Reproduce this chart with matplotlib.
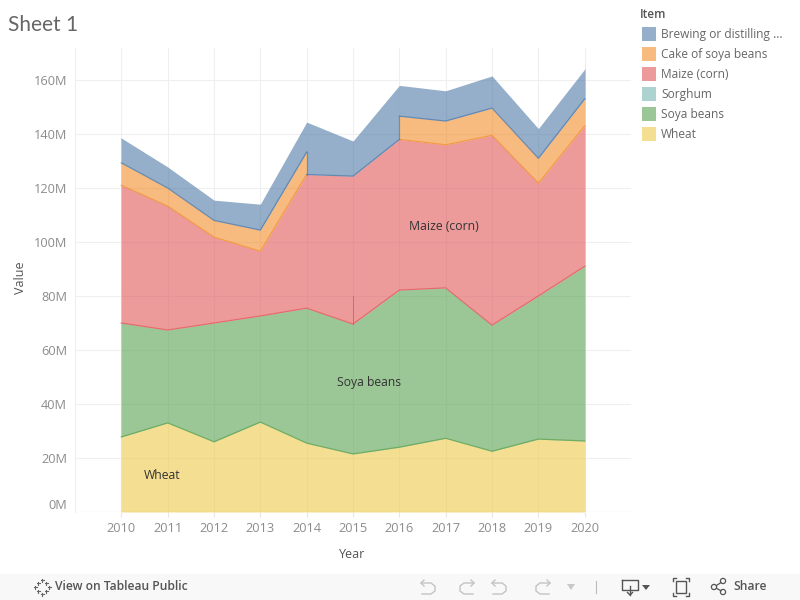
import numpy as np
import matplotlib
matplotlib.use("Agg")
import matplotlib.pyplot as plt
from matplotlib.patches import Rectangle, Circle

plt.rcParams['font.family'] = ['Open Sans', 'DejaVu Sans']

years = [2010, 2011, 2012, 2013, 2014, 2015, 2016, 2017, 2018, 2019, 2020]
wheat = [27.8, 33.0, 26.0, 33.3, 25.5, 21.5, 24.0, 27.3, 22.5, 27.0, 26.3]
soya = [42.2, 34.4, 44.0, 39.3, 50.0, 48.1, 58.2, 55.7, 46.7, 53.0, 64.7]
maize = [51.0, 45.9, 31.8, 24.0, 49.5, 54.8, 55.8, 53.0, 70.3, 41.8, 52.0]
# no cake of soya beans reported for 2015
cake = [8.3, 6.7, 6.2, 7.8, 8.3, np.nan, 8.6, 8.8, 10.1, 9.2, 10.0]
brewing = [9.2, 7.8, 7.5, 9.6, 11.1, 13.0, 11.4, 11.2, 11.9, 11.0, 11.0]
# sorghum only has the one year, shows up as a thin line
sorghum_year = 2015
sorghum = 10.5

legend_items = ["Brewing or distilling ...", "Cake of soya beans", "Maize (corn)",
                "Sorghum", "Soya beans", "Wheat"]
legend_colors = ["#4e79a7", "#f28e2b", "#e15759", "#76b7b2", "#59a14f", "#edc948"]
yticks = [0, 20, 40, 60, 80, 100, 120, 140, 160]

ALPHA = 0.6
TXT = "#8c8c8c"
DARK = "#555555"

fig = plt.figure(figsize=(8, 6), dpi=100, facecolor="white")
ax = fig.add_axes([75 / 800, 1 - 512 / 600, 556 / 800, 464 / 600])
ax.set_xlim(2009, 2021)
ax.set_ylim(0, 464 / 2.7)

ax.set_axisbelow(True)
ax.grid(True, color="#efefef", linewidth=0.8)
for s in ax.spines.values():
    s.set_visible(False)
ax.spines['left'].set_visible(True)
ax.spines['left'].set_color("#efefef")
ax.spines['left'].set_linewidth(0.8)
ax.axhline(0, color="#e6e6e6", linewidth=0.8, zorder=1)

x = np.array(years, dtype=float)
y1 = np.array(wheat)
y2 = y1 + np.array(soya)
y3 = y2 + np.array(maize)
cake_arr = np.array(cake)
y4 = y3 + cake_arr
y5 = y3 + np.nan_to_num(cake_arr) + np.array(brewing)


def area(xs, low, high, color, left=False, right=False):
    # tableau strokes the lower edge of each band, the top stays soft
    ax.fill_between(xs, low, high, color=color, alpha=ALPHA, linewidth=0, zorder=2)
    ax.plot(xs, low, color=color, alpha=0.7, linewidth=0.9, zorder=3)
    if left:
        ax.plot([xs[0], xs[0]], [low[0], high[0]], color=color, alpha=0.25, linewidth=0.7, zorder=3)
    if right:
        ax.plot([xs[-1], xs[-1]], [low[-1], high[-1]], color=color, alpha=0.25, linewidth=0.7, zorder=3)


area(x, np.zeros_like(x), y1, legend_colors[5], True, True)
area(x, y1, y2, legend_colors[4], True, True)
area(x, y2, y3, legend_colors[2], True, True)

a = x <= 2014
b = x >= 2016
mid = (x >= 2014) & (x <= 2016)
area(x[a], y3[a], y4[a], legend_colors[1], left=True)
area(x[b], y3[b], y4[b], legend_colors[1], right=True)
area(x[a], y4[a], y5[a], legend_colors[0], left=True)
area(x[mid], y3[mid], y5[mid], legend_colors[0])
area(x[b], y4[b], y5[b], legend_colors[0], right=True)

# edges where the orange band stops and starts
for yr in [2014, 2016]:
    i = years.index(yr)
    ax.plot([yr, yr], [y3[i], y4[i]], color=legend_colors[0], alpha=0.6, linewidth=0.9, zorder=3)

i = years.index(sorghum_year)
ax.plot([sorghum_year, sorghum_year], [y2[i], y2[i] + sorghum], color="#a86f6f",
        alpha=0.8, linewidth=0.7, zorder=3)

ax.set_xticks(years)
ax.set_yticks(yticks)
ax.set_yticklabels(["%dM" % v for v in yticks])
ax.tick_params(axis='y', length=0, labelsize=9.2, labelcolor=TXT, pad=5.8)
ax.tick_params(axis='x', length=3.6, width=0.8, color="#e6e6e6", labelsize=9.2, labelcolor=TXT, pad=3.8)
ax.get_yticklabels()[0].set_verticalalignment('bottom')

ax.text(2016.96, 105.9, "Maize (corn)", fontsize=8.8, color="#333333", ha="center", va="center", zorder=5)
ax.text(2015.35, 48.1, "Soya beans", fontsize=8.7, color="#333333", ha="center", va="center", zorder=5)
ax.text(2010.88, 13.7, "Wheat", fontsize=8.8, color="#333333", ha="center", va="center", zorder=5)

# overlay in pixel coordinates for page furniture
ov = fig.add_axes([0, 0, 1, 1], facecolor="none")
ov.set_xlim(0, 800)
ov.set_ylim(600, 0)
ov.axis("off")

ov.text(8, 25, "Sheet 1", fontsize=15, color="#666666", va="center", family=['Lato', 'DejaVu Sans'])
ov.text(352, 554, "Year", fontsize=9, color=DARK, ha="center", va="center", weight="medium")
ov.text(21, 278, "Value", fontsize=9, color=DARK, ha="center", va="center", rotation=90, weight="medium")

ov.text(640, 14, "Item", fontsize=8.5, color=DARK, va="center", weight="semibold")
for n, (name, col) in enumerate(zip(legend_items, legend_colors)):
    yy = 34 + n * 20
    ov.add_patch(Rectangle((642, yy - 7), 14, 14, color=col, alpha=ALPHA, linewidth=0))
    ov.text(661, yy + 0.5, name, fontsize=8.6, color="#666666", va="center")

# toolbar
ov.add_patch(Rectangle((0, 574), 800, 26, color="#f8f8f8", linewidth=0))
ov.text(55, 587, "View on Tableau Public", fontsize=8.7, color="#555555", va="center", weight="semibold")
ov.text(733, 587, "Share", fontsize=8.7, color="#555555", va="center", weight="semibold")

for dx, dy in [(0, -7), (0, 7), (-7, 0), (7, 0), (-4, -4), (4, -4), (-4, 4), (4, 4)]:
    ov.plot([42 + dx - 1.5, 42 + dx + 1.5], [587 + dy, 587 + dy], color="#666666", lw=0.8)
    ov.plot([42 + dx, 42 + dx], [587 + dy - 1.5, 587 + dy + 1.5], color="#666666", lw=0.8)

for x0, flip in [(428, 1), (467, -1), (499, 1), (543, -1)]:
    ov.plot([x0 - 7 * flip, x0 + 3 * flip, x0 + 7 * flip, x0 + 7 * flip, x0 + 3 * flip, x0 - 6 * flip],
            [583, 583, 586, 591, 594, 594], color="#c4c4c4", lw=1)
    ov.plot([x0 - 4 * flip, x0 - 7 * flip, x0 - 4 * flip], [580, 583, 586], color="#c4c4c4", lw=1)
ov.fill([567, 575, 571], [584, 584, 590], color="#c8c8c8", lw=0)
ov.plot([596, 596], [581, 593], color="#bbbbbb", lw=0.8)

ov.plot([622, 622, 638, 638, 622], [580, 590, 590, 580, 580], color="#555555", lw=1)
ov.plot([630, 630], [586, 595], color="#555555", lw=1)
ov.plot([627.5, 630, 632.5], [592.5, 595, 592.5], color="#555555", lw=1)
ov.fill([642, 650, 646], [585, 585, 590], color="#555555", lw=0)

ov.add_patch(Rectangle((676, 581), 10, 12, fill=False, edgecolor="#555555", lw=1))
for cx, cy, sx, sy in [(673, 578, 1, 1), (689, 578, -1, 1), (673, 596, 1, -1), (689, 596, -1, -1)]:
    ov.plot([cx + 3 * sx, cx, cx], [cy, cy, cy + 3 * sy], color="#555555", lw=1)

for cx, cy in [(723, 581), (723, 592), (714, 587)]:
    ov.add_patch(Circle((cx, cy), 2.6, fill=False, edgecolor="#555555", lw=0.9))
ov.plot([721, 716.5], [582.5, 585.5], color="#555555", lw=0.9)
ov.plot([721, 716.5], [590.8, 588.3], color="#555555", lw=0.9)

fig.savefig("out.png", dpi=100)
